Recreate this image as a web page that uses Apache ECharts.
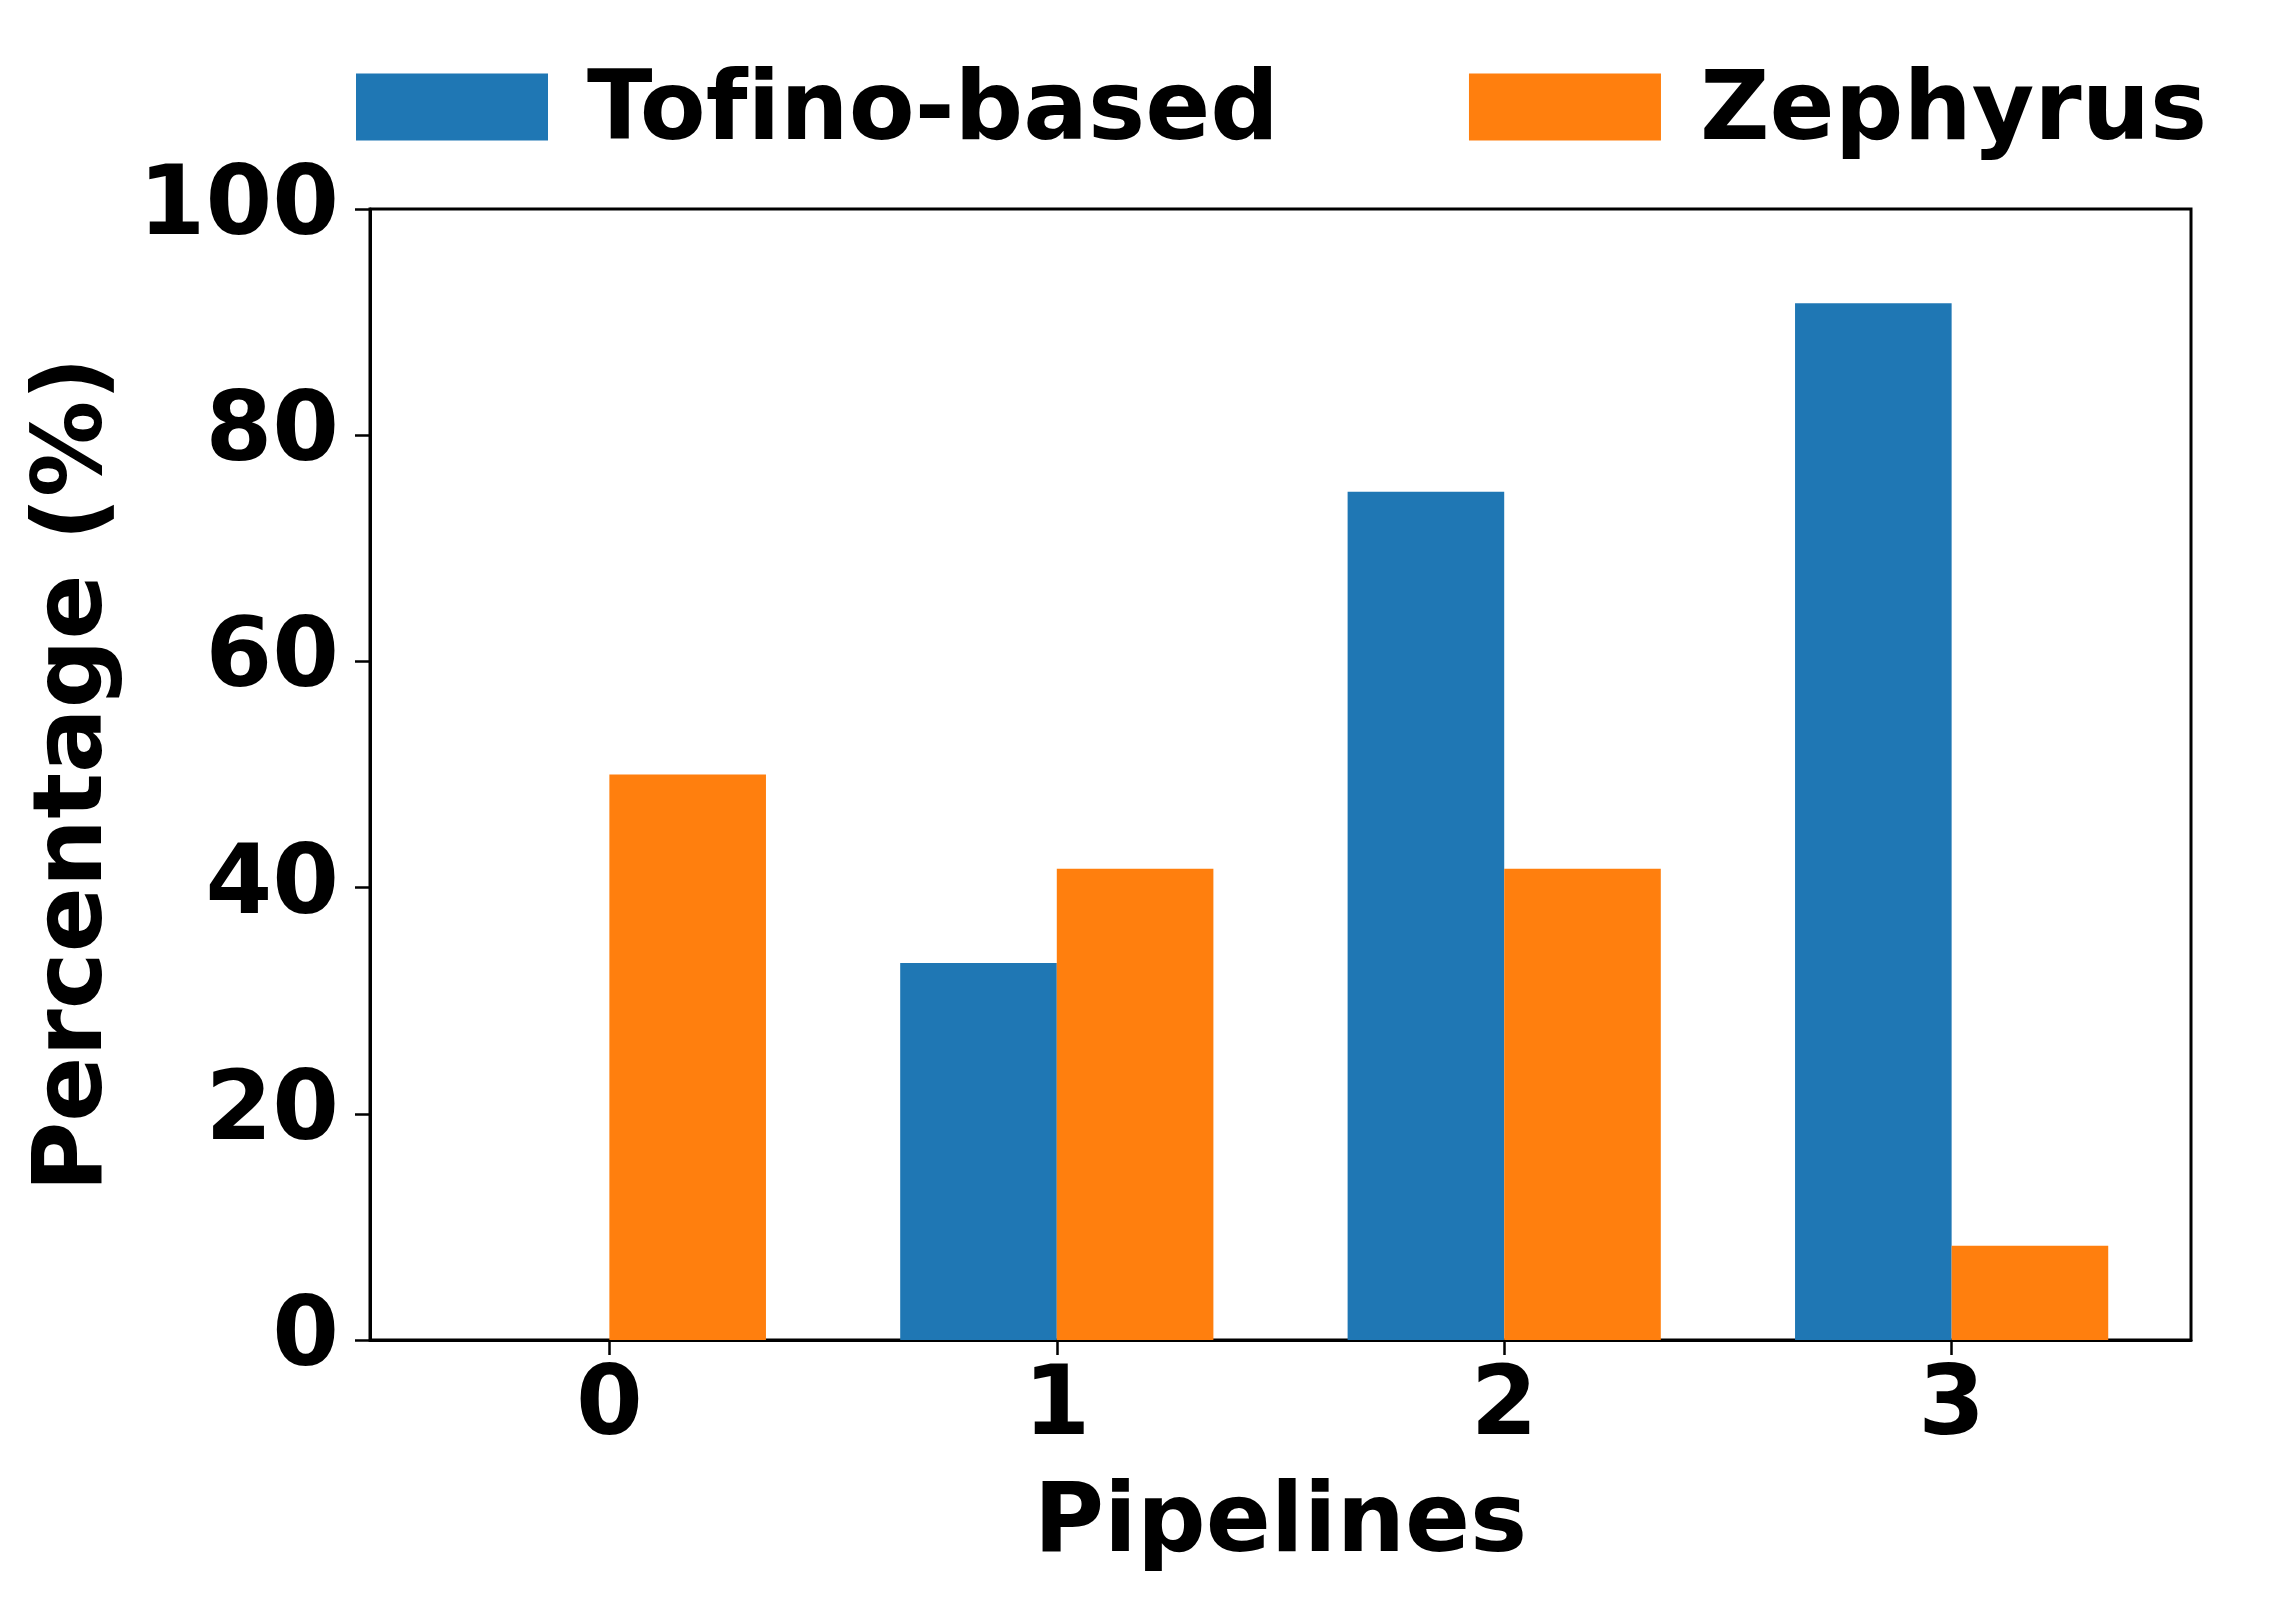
<!DOCTYPE html>
<html>
<head>
<meta charset="utf-8">
<script src="https://cdn.jsdelivr.net/npm/echarts@6/dist/echarts.min.js"></script>
<style>
html,body{margin:0;padding:0;background:#fff;}
#chart{width:2273px;height:1602px;}
</style>
</head>
<body>
<div id="chart"></div>
<script>
const categories = [0, 1, 2, 3];
const tofinoValues = [0, 33.33, 75, 91.67];
const zephyrusValues = [50, 41.67, 41.67, 8.33];
const yTicks = [0, 20, 40, 60, 80, 100];
const seriesNames = ['Tofino-based', 'Zephyrus'];

const BAR_W = 0.35;
const FONT = 'DejaVu Sans';
const FS = 96;

function makeRender(offset) {
  return function (params, api) {
    const x = api.value(0), v = api.value(1);
    const p0 = api.coord([x + offset, 0]);
    const p1 = api.coord([x + offset + BAR_W, v]);
    return {
      type: 'rect',
      shape: { x: p0[0], y: p1[1], width: p1[0] - p0[0], height: p0[1] - p1[1] },
      style: { fill: api.visual('color') }
    };
  };
}

const chart = echarts.init(document.getElementById('chart'), null, { renderer: 'canvas' });
chart.setOption({
  animation: false,
  backgroundColor: '#fff',
  textStyle: { fontFamily: FONT, fontWeight: 'bold' },
  legend: {
    left: 356, top: 52, padding: 0,
    itemWidth: 192, itemHeight: 67, itemGap: 190,
    icon: 'rect',
    data: seriesNames,
    // zero-width non-joiner keeps "f" and "i" as separate glyphs (no ligature), as in the reference
    formatter: name => '{t|' + name.replace('fi', 'f\u200Ci') + '}',
    textStyle: {
      fontFamily: FONT, fontWeight: 'bold', fontSize: FS, color: '#000',
      rich: { t: { fontFamily: FONT, fontWeight: 'bold', fontSize: FS, color: '#000', lineHeight: 96, padding: [14, 0, 0, 34] } }
    }
  },
  grid: {
    left: 370, right: 82, top: 209, bottom: 262,
    show: true, borderColor: '#000', borderWidth: 3, backgroundColor: 'transparent',
    containLabel: false, outerBoundsMode: 'none'
  },
  xAxis: {
    type: 'value', min: -0.535, max: 3.535,
    name: 'Pipelines', nameLocation: 'middle', nameGap: 138,
    nameTextStyle: { fontFamily: FONT, fontWeight: 'bold', fontSize: FS, color: '#000' },
    axisLine: { show: true, onZero: false, lineStyle: { color: '#000', width: 3 } },
    axisTick: { show: true, length: 15, lineStyle: { color: '#000', width: 2.5 }, customValues: categories },
    axisLabel: { show: true, margin: 21, fontFamily: FONT, fontWeight: 'bold', fontSize: FS, color: '#000', customValues: categories, formatter: v => String(v) },
    splitLine: { show: false }
  },
  yAxis: {
    type: 'value', min: 0, max: 100, interval: 20,
    name: 'Percentage (%)', nameLocation: 'middle', nameGap: 246, nameRotate: 90,
    nameTextStyle: { fontFamily: FONT, fontWeight: 'bold', fontSize: FS, color: '#000' },
    axisLine: { show: true, onZero: false, lineStyle: { color: '#000', width: 3 } },
    axisTick: { show: true, length: 15, lineStyle: { color: '#000', width: 2.5 } },
    axisLabel: { margin: 31, padding: [14, 0, 0, 0], fontFamily: FONT, fontWeight: 'bold', fontSize: FS, color: '#000',
      customValues: yTicks },
    splitLine: { show: false }
  },
  series: [
    {
      name: seriesNames[0], type: 'custom', color: '#1f77b4', itemStyle: { color: '#1f77b4' },
      renderItem: makeRender(-BAR_W), encode: { x: 0, y: 1 },
      data: categories.map((c, i) => [c, tofinoValues[i]])
    },
    {
      name: seriesNames[1], type: 'custom', color: '#ff7f0e', itemStyle: { color: '#ff7f0e' },
      renderItem: makeRender(0), encode: { x: 0, y: 1 },
      data: categories.map((c, i) => [c, zephyrusValues[i]])
    }
  ]
});
</script>
</body>
</html>
